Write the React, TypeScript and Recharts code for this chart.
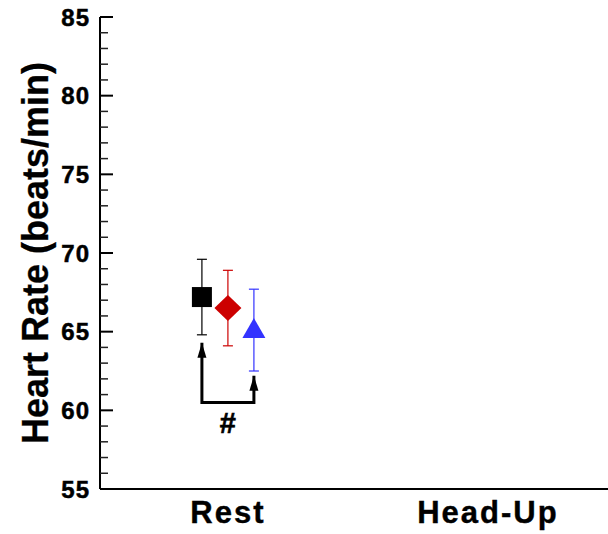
import React from "react";
import {
  ScatterChart,
  Scatter,
  XAxis,
  YAxis,
  ErrorBar,
  ReferenceDot,
} from "recharts";

// categories along the x axis
const categories = ["Rest", "Head-Up"];

// three groups, plotted side by side at each category
const groupNames = ["Group A", "Group B", "Group C"];
const groupColors = ["#000000", "#CC0000", "#3333FF"];
const groupShapes = ["square", "diamond", "triangle"];
const groupOffsets = [-0.1, 0, 0.1];

// heart rate mean and error per group (Rest only)
const restMeans = [67.2, 66.5, 65.1];
const restErrors = [2.4, 2.4, 2.6];

// y axis ticks
const yTicks = [
  55, 56, 57, 58, 59, 60, 61, 62, 63, 64, 65, 66, 67, 68, 69, 70, 71, 72, 73,
  74, 75, 76, 77, 78, 79, 80, 81, 82, 83, 84, 85,
];

// significance bracket between group A and group C at Rest
const bracketPoints = [
  { x: -0.1, y: 64.3, head: true },
  { x: -0.1, y: 60.5, head: false },
  { x: 0.1, y: 60.5, head: false },
  { x: 0.1, y: 62.2, head: true },
];
const bracketMark = { x: 0, y: 59.2, text: "#" };

const FONT = "'Liberation Sans', Arial, Helvetica, sans-serif";

const groupData = groupNames.map((name, i) => [
  { x: 0 + groupOffsets[i], y: restMeans[i], err: restErrors[i], name },
]);

const Marker = (props: any) => {
  const { cx, cy, kind, color } = props;
  if (cx == null || cy == null) return null;
  if (kind === "square") {
    return <rect x={cx - 10} y={cy - 10} width={20} height={20} fill={color} />;
  }
  if (kind === "diamond") {
    return (
      <polygon
        points={`${cx},${cy - 13} ${cx + 13.5},${cy} ${cx},${cy + 13} ${cx - 13.5},${cy}`}
        fill={color}
      />
    );
  }
  return (
    <polygon
      points={`${cx},${cy - 12} ${cx + 11.5},${cy + 8} ${cx - 11.5},${cy + 8}`}
      fill={color}
    />
  );
};

const ArrowHead = (props: any) => {
  const { cx, cy, payload } = props;
  if (!payload || !payload.head) return <g />;
  return (
    <polygon
      points={`${cx},${cy} ${cx + 4.5},${cy + 15} ${cx - 4.5},${cy + 15}`}
      fill="#000"
    />
  );
};

const YTick = (props: any) => {
  const { x, y, payload } = props;
  const major = payload.value % 5 === 0;
  return (
    <g>
      <line
        x1={x}
        x2={x + (major ? 13 : 8)}
        y1={y}
        y2={y}
        stroke={major ? "#000" : "#222"}
        strokeWidth={major ? 2 : 1.5}
      />
      {major && (
        <text
          x={x - 10}
          y={y}
          dy="0.36em"
          textAnchor="end"
          fontFamily={FONT}
          fontWeight="bold"
          fontSize={24}
          letterSpacing={1}
          stroke="#000"
          strokeWidth={0.5}
          fill="#000"
        >
          {payload.value}
        </text>
      )}
    </g>
  );
};

const XTick = (props: any) => {
  const { x, y, payload } = props;
  return (
    <text
      x={x}
      y={y + 34}
      textAnchor="middle"
      fontFamily={FONT}
      fontWeight="bold"
      fontSize={31}
      letterSpacing={2}
      stroke="#000"
      strokeWidth={0.4}
      fill="#000"
    >
      {categories[payload.value]}
    </text>
  );
};

const YLabel = (props: any) => {
  const { viewBox } = props;
  const cx = 35;
  const cy = viewBox.y + viewBox.height / 2;
  return (
    <text
      x={cx}
      y={cy}
      transform={`rotate(-90, ${cx}, ${cy})`}
      textAnchor="middle"
      dy="0.36em"
      fontFamily={FONT}
      fontWeight="bold"
      fontSize={36}
      stroke="#000"
      strokeWidth={0.3}
      fill="#000"
    >
      Heart Rate (beats/min)
    </text>
  );
};

export default function App() {
  return (
    <div style={{ position: "absolute", left: 0, top: 0, background: "#fff" }}>
      <ScatterChart
        width={608}
        height={534}
        margin={{ top: 17, right: 0, bottom: 0, left: 0 }}
      >
        <XAxis
          type="number"
          dataKey="x"
          domain={[-0.492, 1.462]}
          ticks={[0, 1]}
          interval={0}
          tickLine={false}
          tickSize={0}
          tickMargin={0}
          tick={<XTick />}
          axisLine={{ stroke: "#000", strokeWidth: 2 }}
          height={45}
          allowDataOverflow
        />
        <YAxis
          type="number"
          dataKey="y"
          domain={[55, 85]}
          ticks={yTicks}
          interval={0}
          tickLine={false}
          tickSize={0}
          tickMargin={0}
          tick={<YTick />}
          axisLine={{ stroke: "#000", strokeWidth: 2 }}
          width={100}
          label={{ content: <YLabel /> }}
          allowDataOverflow
        />
        {groupData.map((data, i) => (
          <Scatter
            key={groupNames[i]}
            name={groupNames[i]}
            data={data}
            fill={groupColors[i]}
            isAnimationActive={false}
            shape={(p: any) => (
              <Marker {...p} kind={groupShapes[i]} color={groupColors[i]} />
            )}
          >
            <ErrorBar
              dataKey="err"
              direction="y"
              width={5}
              stroke={groupColors[i]}
              strokeWidth={1.2}
              isAnimationActive={false}
            />
          </Scatter>
        ))}
        <Scatter
          data={bracketPoints}
          fill="#000"
          line={{ stroke: "#000", strokeWidth: 3 }}
          lineType="joint"
          shape={<ArrowHead />}
          isAnimationActive={false}
        />
        <ReferenceDot
          x={bracketMark.x}
          y={bracketMark.y}
          r={0}
          fill="none"
          stroke="none"
          label={{
            value: bracketMark.text,
            position: "center",
            fontFamily: FONT,
            fontWeight: "bold",
            fontSize: 29,
            stroke: "#000",
            strokeWidth: 0.6,
            fill: "#000",
          }}
        />
      </ScatterChart>
    </div>
  );
}
